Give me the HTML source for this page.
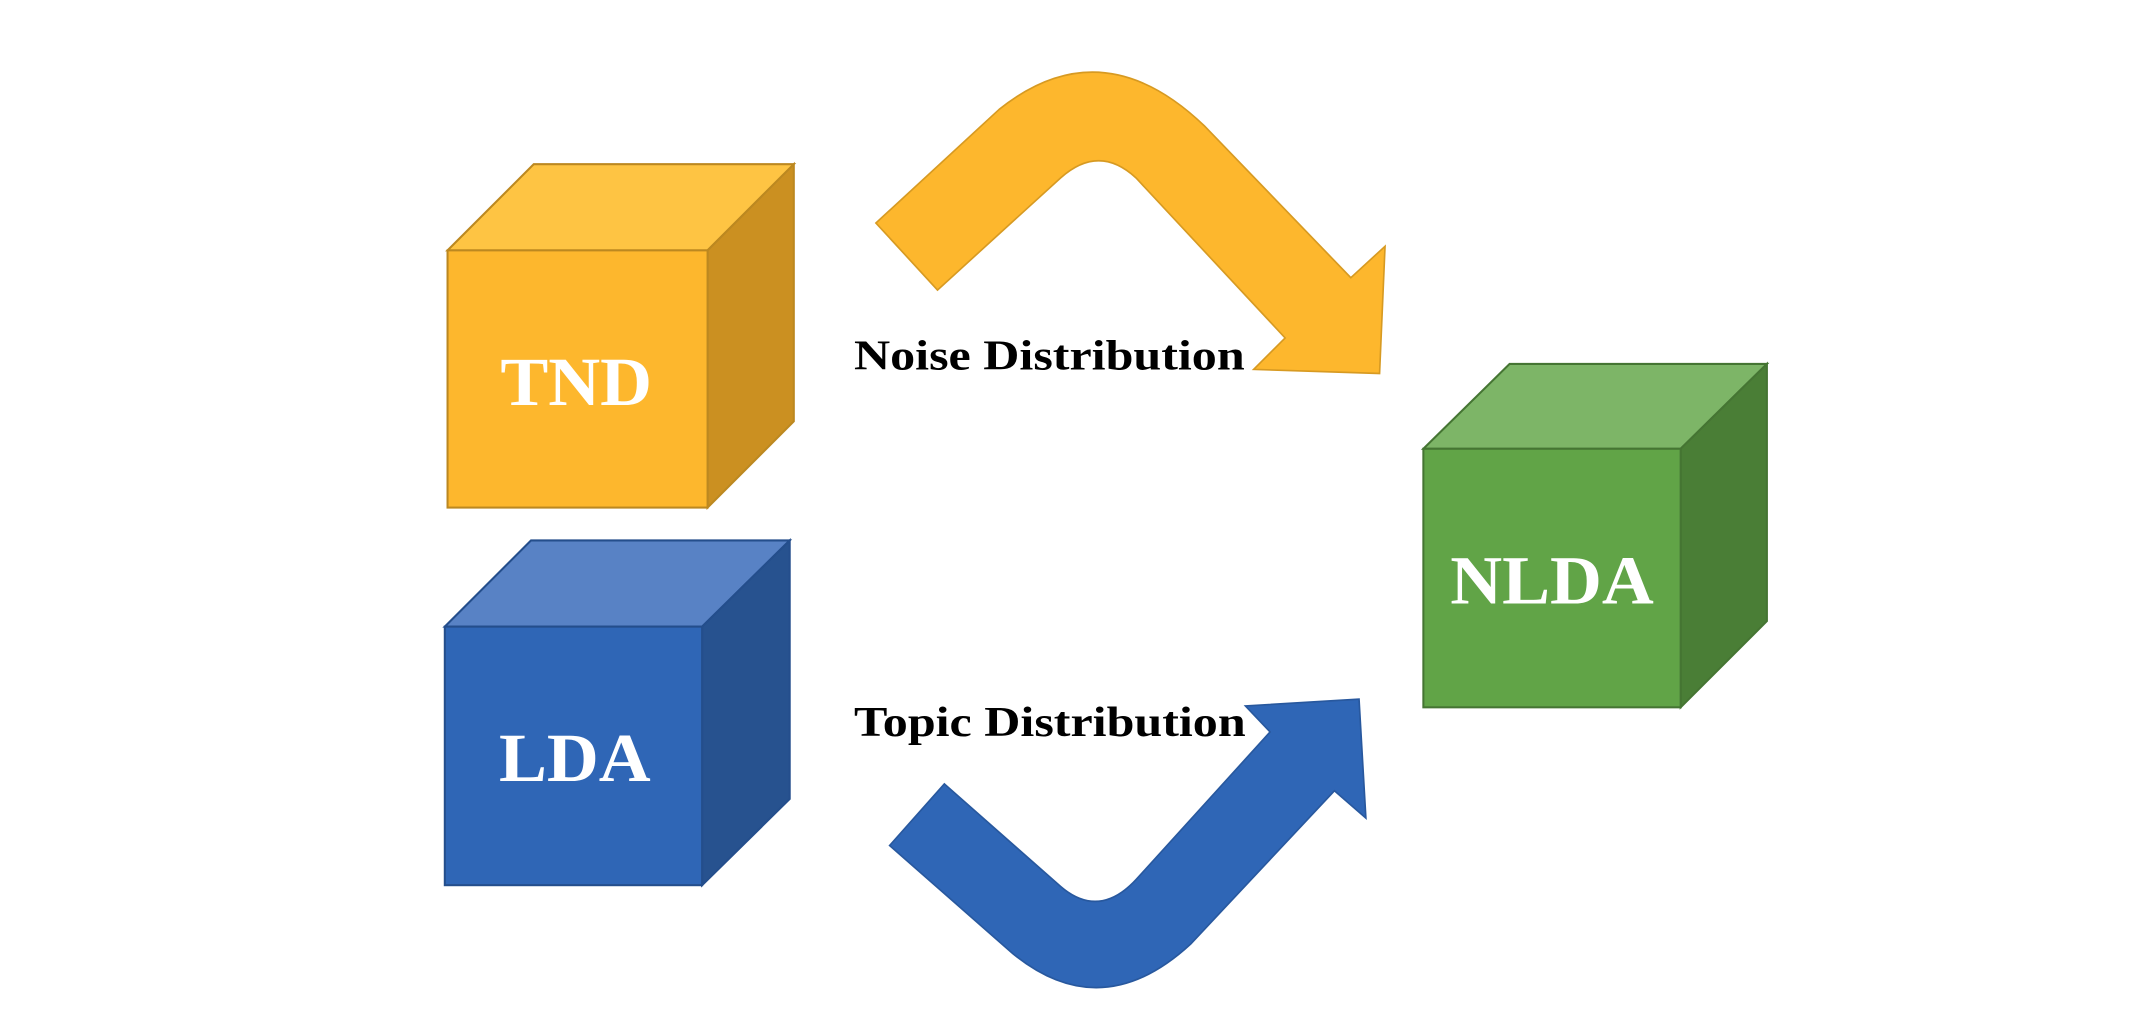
<!DOCTYPE html>
<html><head><meta charset="utf-8"><style>html,body{margin:0;padding:0;background:#fff}svg{display:block}</style></head>
<body>
<svg width="2146" height="1022" viewBox="0 0 1568 747" preserveAspectRatio="none" xmlns="http://www.w3.org/2000/svg">
<rect width="1568" height="747" fill="#fff"/>
<!-- TND -->
<g stroke="#BC8820" stroke-width="1.5">
<polygon points="327,183 390,120 580,120 517,183" fill="#FEC443"/>
<polygon points="517,183 580,120 580,308 517,371" fill="#CB9021"/>
<rect x="327" y="183" width="190" height="188" fill="#FDB72D"/>
</g>
<!-- LDA -->
<g stroke="#244E8C" stroke-width="1.5">
<polygon points="325,458 388,395 577,395 513,458" fill="#5882C5"/>
<polygon points="513,458 577,395 577,584 513,647" fill="#27528F"/>
<rect x="325" y="458" width="188" height="189" fill="#2F66B6"/>
</g>
<!-- NLDA -->
<g stroke="#457533" stroke-width="1.5">
<polygon points="1040,328 1103,266 1291,266 1228,328" fill="#7DB567"/>
<polygon points="1228,328 1291,266 1291,454 1228,517" fill="#4A7E36"/>
<rect x="1040" y="328" width="188" height="189" fill="#61A447"/>
</g>
<g font-family="'Liberation Serif',serif" font-weight="bold" fill="#fff" font-size="50" text-anchor="middle">
<text transform="translate(421,296) scale(1.05,1)">TND</text>
<text transform="translate(420,571) scale(1.05,1)">LDA</text>
<text transform="translate(1134,441) scale(1.05,1)">NLDA</text>
</g>
<!-- yellow arrow -->
<path d="M640,163 L730,80 Q805,20 880,92 L987,203 L1012,180 L1008,273 L916,270 L939,247 L830,130 Q803,105 775,130 L685,212 Z" fill="#FDB72D" stroke="#D79A22" stroke-width="1.2"/>
<!-- blue arrow -->
<path d="M650,618 L740,697 Q805,750 870,690 L975,578 L998,598 L993,511 L910,516 L928,535 L830,643 Q803,672 775,648 L690,573 Z" fill="#2F66B6" stroke="#28589E" stroke-width="1.2"/>
<g font-family="'Liberation Serif',serif" font-weight="bold" fill="#000" font-size="31">
<text transform="translate(624,270) scale(1.18,1)">Noise Distribution</text>
<text transform="translate(624,538) scale(1.18,1)">Topic Distribution</text>
</g>
</svg>
</body></html>
